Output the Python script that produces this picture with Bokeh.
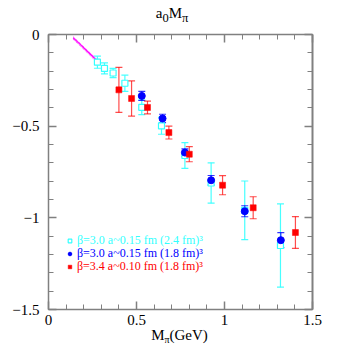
from bokeh.plotting import figure
from bokeh.models import (Range1d, SingleIntervalTicker, LinearAxis, Whisker, ColumnDataSource,
                          Legend, LegendItem, TeeHead, Div)
from bokeh.layouts import column
from bokeh.embed import file_html
from bokeh.resources import INLINE

# ---- data ----
c_x = [0.278, 0.318, 0.367, 0.434, 0.530, 0.642, 0.775, 0.924, 1.115, 1.318]
c_y = [-0.151, -0.185, -0.210, -0.266, -0.397, -0.498, -0.660, -0.810, -0.959, -1.151]
c_e = [0.033, 0.030, 0.025, 0.044, 0.040, 0.046, 0.070, 0.110, 0.160, 0.227]

b_x = [0.530, 0.648, 0.775, 0.924, 1.115, 1.320]
b_y = [-0.335, -0.458, -0.644, -0.795, -0.964, -1.122]
b_e = [0.025, 0.023, 0.020, 0.026, 0.030, 0.041]

r_x = [0.400, 0.472, 0.5625, 0.684, 0.800, 0.989, 1.163, 1.403]
r_y = [-0.302, -0.349, -0.398, -0.535, -0.653, -0.822, -0.945, -1.080]
r_e = [0.123, 0.096, 0.035, 0.035, 0.041, 0.052, 0.060, 0.087]

m_x = [0.14, 0.18, 0.22, 0.25, 0.285]
m_y_up = [-0.012, -0.048, -0.085, -0.113, -0.146]
m_y_mid = [-0.018, -0.054, -0.091, -0.119, -0.153]
m_y_lo = [-0.026, -0.062, -0.099, -0.127, -0.161]

legend_labels = ["β=3.0 a~0.15 fm (2.4 fm)³",
                 "β=3.0 a~0.15 fm (1.8 fm)³",
                 "β=3.4 a~0.10 fm (1.8 fm)³"]
x_ticks = {0: "0", 0.5: "0.5", 1: "1", 1.5: "1.5"}
y_ticks = {0: "0", -0.5: "−0.5", -1: "−1", -1.5: "−1.5"}
title_html = "a<sub>0</sub>M<sub>π</sub>"
xlabel_html = 'M<span style="font-size:10px;vertical-align:-3px">π</span>(GeV)'

FONT = "Liberation Serif"
CYAN = "#33ffff"
BLUE = "#0000ff"
RED = "#ff0000"
GRAY = "#808080"
MAG = "#ff00ff"

p = figure(frame_width=264, frame_height=275, x_range=Range1d(0, 1.5), y_range=Range1d(-1.5, 0),
           output_backend="svg", toolbar_location=None,
           min_border_left=48, min_border_right=30, min_border_top=8, min_border_bottom=22,
           x_axis_type=None, y_axis_type=None)
p.grid.visible = False
p.outline_line_color = None


def make_axis(labels, show_labels):
    ax = LinearAxis(ticker=SingleIntervalTicker(interval=0.5, num_minor_ticks=5))
    ax.axis_line_color = GRAY
    ax.axis_line_width = 1.5
    ax.major_tick_line_color = GRAY
    ax.minor_tick_line_color = GRAY
    ax.major_tick_line_width = 1.5
    ax.minor_tick_line_width = 1
    ax.major_tick_in = 8
    ax.major_tick_out = 0
    ax.minor_tick_in = 5
    ax.minor_tick_out = 0
    ax.major_label_overrides = labels
    ax.major_label_text_font = FONT
    if show_labels:
        ax.major_label_text_font_size = "15px"
        ax.major_label_text_color = "black"
    else:
        ax.major_label_text_font_size = "0px"
        ax.major_label_text_color = None
    return ax


bx = make_axis(x_ticks, True)
bx.major_label_standoff = 5
p.add_layout(bx, "below")
ly = make_axis(y_ticks, True)
ly.major_label_standoff = 9
p.add_layout(ly, "left")
p.add_layout(make_axis(x_ticks, False), "above")
ra = make_axis(y_ticks, False)
ra.axis_line_width = 2
p.add_layout(ra, "right")

# magenta band
p.line(m_x, m_y_up, line_color=MAG, line_width=1, line_dash="1 1", line_alpha=0.8)
p.line(m_x, m_y_mid, line_color=MAG, line_width=1.3)
p.line(m_x, m_y_lo, line_color=MAG, line_width=1, line_dash="1 1", line_alpha=0.8)

def add_series(xs, ys, es, color, marker, size, fill, err_alpha, lw):
    src = ColumnDataSource(dict(x=xs, y=ys, lo=[y - e for y, e in zip(ys, es)],
                                hi=[y + e for y, e in zip(ys, es)]))
    w = Whisker(source=src, base="x", upper="hi", lower="lo", dimension="height",
                line_color=color, line_width=1.2, line_alpha=err_alpha,
                upper_head=TeeHead(size=7, line_color=color, line_width=1.2, line_alpha=err_alpha),
                lower_head=TeeHead(size=7, line_color=color, line_width=1.2, line_alpha=err_alpha))
    p.add_layout(w)
    r = p.scatter("x", "y", source=src, marker=marker, size=size,
                  fill_color=color if fill else "white", line_color=color, line_width=lw)
    return r

rc = add_series(c_x, c_y, c_e, CYAN, "square", 6, False, 0.9, 1.2)
rb = add_series(b_x, b_y, b_e, BLUE, "circle", 7, True, 0.8, 1)
rr = add_series(r_x, r_y, r_e, RED, "square", 6, True, 0.7, 0.5)

for i, (r, col) in enumerate(((rc, CYAN), (rb, BLUE), (rr, RED))):
    lg = Legend(items=[LegendItem(label=legend_labels[i], renderers=[r])],
                location=(17, 61 - 13 * i), glyph_width=9, glyph_height=9,
                label_standoff=3, padding=0, margin=0, spacing=0,
                background_fill_alpha=0, border_line_color=None,
                label_text_font=FONT, label_text_font_size="12px",
                label_text_color=col, label_height=12)
    p.add_layout(lg)

title = Div(text=title_html, width=342, height=26, margin=0,
            styles={"font-family": FONT, "font-size": "15px", "line-height": "15px",
                    "text-align": "center", "padding-top": "6px", "padding-left": "2px",
                    "box-sizing": "border-box", "color": "black"})
xlabel = Div(text=xlabel_html, width=342, height=15, margin=0,
             styles={"font-family": FONT, "font-size": "15px", "line-height": "9px",
                     "text-align": "center", "padding-left": "17px",
                     "box-sizing": "border-box", "color": "black"})

layout = column(title, p, xlabel, spacing=0)
open("out.html", "w").write(file_html(layout, INLINE))
